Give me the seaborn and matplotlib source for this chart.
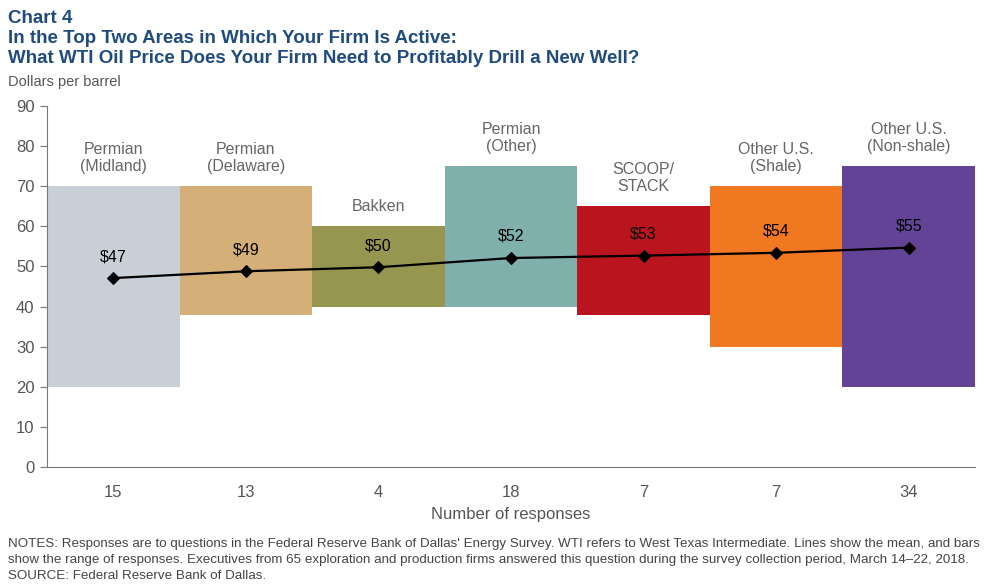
import numpy as np
import matplotlib
matplotlib.use("Agg")
import matplotlib.pyplot as plt
import seaborn as sns

regions = ["Permian\n(Midland)", "Permian\n(Delaware)", "Bakken", "Permian\n(Other)",
           "SCOOP/\nSTACK", "Other U.S.\n(Shale)", "Other U.S.\n(Non-shale)"]
responses = ["15", "13", "4", "18", "7", "7", "34"]
low = [20, 38, 40, 40, 38, 30, 20]
high = [70, 70, 60, 75, 65, 70, 75]
mean = [47.1, 48.8, 49.8, 52.1, 52.7, 53.4, 54.7]
mean_labels = ["$47", "$49", "$50", "$52", "$53", "$54", "$55"]
colors = ["#C8CFD7", "#D4AF78", "#969650", "#7FB0AC", "#BA141E", "#F07820", "#634396"]

sns.set_style("white")
plt.rcParams['font.family'] = ['Liberation Sans', 'DejaVu Sans']

fig = plt.figure(figsize=(9.89, 5.88), dpi=100)
ax = fig.add_axes([47/989, 1-467/588, (975-47)/989, (467-106)/588])

pos = np.arange(len(regions))
heights = [h - l for h, l in zip(high, low)]
sns.barplot(x=pos, y=heights, bottom=low, width=1.0, ax=ax, color=colors[0],
            saturation=1, linewidth=0, native_scale=True)
for p, c in zip(ax.patches, colors):
    p.set_facecolor(c)
    p.set_edgecolor(c)

sns.lineplot(x=pos, y=mean, ax=ax, color="black", lw=1.6, marker="D",
             markersize=6, markeredgecolor="black")

gray = "#666666"
for i in range(len(regions)):
    ax.text(pos[i], high[i] + 3, regions[i], ha="center", va="bottom",
            fontsize=11.5, color=gray, linespacing=1.15)
    ax.text(pos[i], mean[i] + 3.5, mean_labels[i], ha="center", va="bottom",
            fontsize=11.5, color="black")

ax.set_xlim(-0.5, len(regions) - 0.5)
ax.set_ylim(0, 90)
ax.set_yticks(range(0, 91, 10))
ax.set_xticks(pos)
ax.set_xticklabels(responses)
ax.set_xticks(np.arange(-0.5, len(regions), 1.0), minor=True)
ax.tick_params(axis="x", which="major", length=0, pad=13, labelsize=12, labelcolor="#555555")
ax.tick_params(axis="x", which="minor", length=5, width=0.8, color="#777777", direction="out")
ax.tick_params(axis="y", which="major", length=5, width=0.8, color="#777777", direction="out",
               labelsize=12, labelcolor="#555555", pad=4, left=True)
ax.set_xlabel("Number of responses", fontsize=12, color="#555555", labelpad=5)
ax.set_ylabel("")
for s in ["top", "right"]:
    ax.spines[s].set_visible(False)
for s in ["left", "bottom"]:
    ax.spines[s].set_color("#777777")
    ax.spines[s].set_linewidth(0.8)

navy = "#1F4B7F"
title_lines = ["Chart 4",
               "In the Top Two Areas in Which Your Firm Is Active:",
               "What WTI Oil Price Does Your Firm Need to Profitably Drill a New Well?"]
for k, line in enumerate(title_lines):
    fig.text(8/989, 1-(23 + 20*k)/588, line, ha="left", va="baseline",
             fontsize=13.5, fontweight="bold", color=navy)
fig.text(8/989, 1-86/588, "Dollars per barrel", ha="left", va="baseline", fontsize=10.5, color="#555555")

notes = ["NOTES: Responses are to questions in the Federal Reserve Bank of Dallas' Energy Survey. WTI refers to West Texas Intermediate. Lines show the mean, and bars",
         "show the range of responses. Executives from 65 exploration and production firms answered this question during the survey collection period, March 14\u201322, 2018.",
         "SOURCE: Federal Reserve Bank of Dallas."]
for k, line in enumerate(notes):
    fig.text(8/989, 1-(547 + 16*k)/588, line, ha="left", va="baseline",
             fontsize=9.6, color="#444444")

fig.savefig("out.png", dpi=100)
